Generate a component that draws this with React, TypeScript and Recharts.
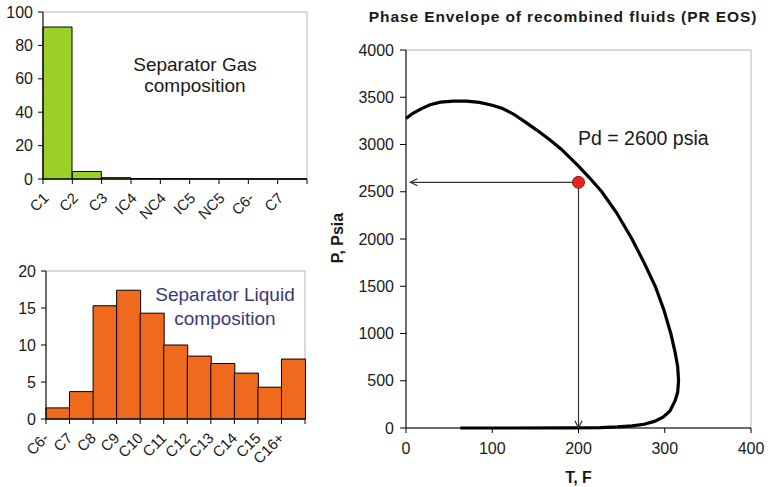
import React from 'react';
import {
  BarChart,
  Bar,
  LineChart,
  Line,
  XAxis,
  YAxis,
  ReferenceArea,
  ReferenceLine,
  ReferenceDot,
} from 'recharts';

// separator gas, mole %
const gasComponents = ['C1', 'C2', 'C3', 'IC4', 'NC4', 'IC5', 'NC5', 'C6-', 'C7'];
const gasMolePct = [91, 4.5, 0.8, 0.2, 0.15, 0.1, 0.08, 0.05, 0.03];
const gasTicks = [0, 20, 40, 60, 80, 100];

// separator liquid, mole %
const liquidComponents = ['C6-', 'C7', 'C8', 'C9', 'C10', 'C11', 'C12', 'C13', 'C14', 'C15', 'C16+'];
const liquidMolePct = [1.5, 3.7, 15.3, 17.4, 14.3, 10.0, 8.5, 7.5, 6.2, 4.3, 8.1];
const liquidTicks = [0, 5, 10, 15, 20];

// phase envelope traced from the cricondenbar side round to the bubble end
const envelopeT = [
  0, 8, 18, 28, 40, 55, 70, 85, 100, 112, 125, 138, 152, 167, 180, 190, 200, 213, 227, 244,
  262, 276, 289, 299, 307, 312, 315, 316, 315, 312, 306, 298, 288, 276, 262, 245, 225, 190, 120, 63,
];
const envelopeP = [
  3275, 3330, 3380, 3420, 3448, 3458, 3458, 3445, 3415, 3380, 3320, 3240, 3150, 3048, 2950, 2860,
  2770, 2645, 2500, 2280, 2000, 1750, 1500, 1250, 1000, 800, 650, 500, 380, 290, 180, 115, 70, 40,
  22, 12, 5, 2, 0, 0,
];
const tempTicks = [0, 100, 200, 300, 400];
const pressureTicks = [0, 500, 1000, 1500, 2000, 2500, 3000, 3500, 4000];

const reservoirT = 200;
const dewPointP = 2600;

const gasData = gasComponents.map((name, i) => ({ name, value: gasMolePct[i] }));
const liquidData = liquidComponents.map((name, i) => ({ name, value: liquidMolePct[i] }));
const envelopeData = envelopeT.map((T, i) => ({ T, P: envelopeP[i] }));

const FONT = '"Liberation Sans", Arial, sans-serif';
const tickStyle = { fill: '#1a1a1a', fontSize: 16, fontFamily: FONT };

// Excel-style category tick: marks at the band edges, label slanted up to the right
const CategoryTick = (props: any) => {
  const { x, y, payload, index, visibleTicksCount, band } = props;
  const half = payload && payload.offset > 0 ? payload.offset : band / 2;
  const last = index === visibleTicksCount - 1;
  const lx = x - 8;
  const ly = y + 20;
  return (
    <g>
      <line x1={x - half} x2={x - half} y1={y} y2={y + 5} stroke="#000" />
      {last && <line x1={x + half} x2={x + half} y1={y} y2={y + 5} stroke="#000" />}
      <text
        x={lx}
        y={ly}
        textAnchor="end"
        transform={`rotate(-45 ${lx} ${ly})`}
        fill="#1a1a1a"
        fontSize={15}
        fontFamily={FONT}
      >
        {payload.value}
      </text>
    </g>
  );
};

// line with an open arrowhead at its second end point
const ArrowLine = (props: any) => {
  const { x1, y1, x2, y2 } = props;
  const ang = Math.atan2(y2 - y1, x2 - x1);
  const len = 8;
  const spread = 0.45;
  const ax = x2 - len * Math.cos(ang - spread);
  const ay = y2 - len * Math.sin(ang - spread);
  const bx = x2 - len * Math.cos(ang + spread);
  const by = y2 - len * Math.sin(ang + spread);
  return (
    <g>
      <line x1={x1} y1={y1} x2={x2} y2={y2} stroke="#333" strokeWidth={1.2} />
      <path d={`M${ax},${ay} L${x2},${y2} L${bx},${by}`} fill="none" stroke="#333" strokeWidth={1.2} />
    </g>
  );
};

function GasChart() {
  return (
    <BarChart
      width={320}
      height={245}
      data={gasData}
      margin={{ top: 12, right: 13, bottom: 16, left: 0 }}
      barCategoryGap={0}
    >
      <ReferenceArea y1={0} y2={100} fill="none" stroke="#b5b5b5" />
      <XAxis
        dataKey="name"
        height={50}
        interval={0}
        tickLine={false}
        tickSize={0}
        tickMargin={0}
        axisLine={{ stroke: '#000' }}
        tick={(p: any) => <CategoryTick {...p} band={264 / gasComponents.length} />}
      />
      <YAxis
        width={43}
        domain={[0, 100]}
        ticks={gasTicks}
        tickSize={5}
        tickMargin={5}
        axisLine={{ stroke: '#000' }}
        tickLine={{ stroke: '#000' }}
        tick={tickStyle}
      />
      <Bar dataKey="value" fill="#9bd126" stroke="#000" strokeWidth={1} isAnimationActive={false} />
    </BarChart>
  );
}

function LiquidChart() {
  return (
    <BarChart
      width={320}
      height={232}
      data={liquidData}
      margin={{ top: 16, right: 15, bottom: 18, left: 0 }}
      barCategoryGap={0}
    >
      <ReferenceArea y1={0} y2={20} fill="none" stroke="#b5b5b5" />
      <XAxis
        dataKey="name"
        height={50}
        interval={0}
        tickLine={false}
        tickSize={0}
        tickMargin={0}
        axisLine={{ stroke: '#000' }}
        tick={(p: any) => <CategoryTick {...p} band={259 / liquidComponents.length} />}
      />
      <YAxis
        width={46}
        domain={[0, 20]}
        ticks={liquidTicks}
        tickSize={5}
        tickMargin={5}
        axisLine={{ stroke: '#000' }}
        tickLine={{ stroke: '#000' }}
        tick={tickStyle}
      />
      <Bar dataKey="value" fill="#ef6a1d" stroke="#000" strokeWidth={1} isAnimationActive={false} />
    </BarChart>
  );
}

function EnvelopeChart() {
  return (
    <LineChart
      width={438}
      height={487}
      data={envelopeData}
      margin={{ top: 50, right: 17, bottom: 1, left: 0 }}
    >
      <ReferenceArea x1={0} x2={400} y1={0} y2={4000} fill="none" stroke="#b5b5b5" />
      <XAxis
        dataKey="T"
        type="number"
        domain={[0, 400]}
        ticks={tempTicks}
        height={58}
        tickSize={5}
        tickMargin={10}
        axisLine={{ stroke: '#000' }}
        tickLine={{ stroke: '#000' }}
        tick={tickStyle}
        label={{
          value: 'T, F',
          position: 'insideBottom',
          offset: 3,
          fill: '#1a1a1a',
          fontSize: 16,
          fontWeight: 'bold',
          fontFamily: FONT,
        }}
      />
      <YAxis
        type="number"
        domain={[0, 4000]}
        ticks={pressureTicks}
        width={76}
        tickSize={6}
        tickMargin={6}
        axisLine={{ stroke: '#000' }}
        tickLine={{ stroke: '#000' }}
        tick={tickStyle}
      />
      <Line
        dataKey="P"
        type="linear"
        stroke="#000"
        strokeWidth={3.2}
        dot={false}
        isAnimationActive={false}
      />
      <ReferenceLine
        segment={[
          { x: reservoirT, y: dewPointP },
          { x: 5, y: dewPointP },
        ]}
        shape={ArrowLine}
      />
      <ReferenceLine
        segment={[
          { x: reservoirT, y: dewPointP },
          { x: reservoirT, y: 0 },
        ]}
        shape={ArrowLine}
      />
      <ReferenceDot x={reservoirT} y={dewPointP} r={6} fill="#e8251b" stroke="#8a1a12" strokeWidth={1} />
    </LineChart>
  );
}

export default function App() {
  return (
    <div
      style={{
        position: 'absolute',
        left: 0,
        top: 0,
        width: 768,
        height: 487,
        background: '#fff',
        fontFamily: FONT,
        overflow: 'hidden',
      }}
    >
      <div style={{ position: 'absolute', left: 0, top: 0 }}>
        <GasChart />
      </div>
      <div style={{ position: 'absolute', left: 0, top: 255 }}>
        <LiquidChart />
      </div>
      <div style={{ position: 'absolute', left: 330, top: 0 }}>
        <EnvelopeChart />
      </div>

      <div
        style={{
          position: 'absolute',
          left: 110,
          top: 54,
          width: 170,
          textAlign: 'center',
          fontSize: 19,
          lineHeight: '21px',
          color: '#1a1a1a',
        }}
      >
        Separator Gas
        <br />
        composition
      </div>
      <div
        style={{
          position: 'absolute',
          left: 140,
          top: 283,
          width: 170,
          textAlign: 'center',
          fontSize: 19,
          lineHeight: '24px',
          color: '#3a3a78',
        }}
      >
        Separator Liquid
        <br />
        composition
      </div>
      <div
        style={{
          position: 'absolute',
          left: 353,
          top: 8,
          width: 420,
          textAlign: 'center',
          fontSize: 15.5,
          letterSpacing: 0.9,
          fontWeight: 'bold',
          lineHeight: '18px',
          color: '#1a1a1a',
        }}
      >
        Phase Envelope of recombined fluids (PR EOS)
      </div>
      <div
        style={{
          position: 'absolute',
          left: 578,
          top: 126,
          fontSize: 19.5,
          lineHeight: '24px',
          color: '#1a1a1a',
          whiteSpace: 'nowrap',
        }}
      >
        {`Pd = ${dewPointP} psia`}
      </div>
      <div
        style={{
          position: 'absolute',
          left: 298,
          top: 228,
          width: 80,
          height: 20,
          lineHeight: '20px',
          textAlign: 'center',
          fontSize: 16,
          fontWeight: 'bold',
          color: '#1a1a1a',
          transform: 'rotate(-90deg)',
          whiteSpace: 'nowrap',
        }}
      >
        P, Psia
      </div>
    </div>
  );
}
